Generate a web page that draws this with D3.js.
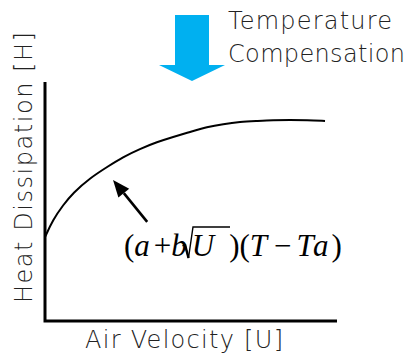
<!DOCTYPE html>
<html>
<head>
<meta charset="utf-8">
<script src="https://cdn.jsdelivr.net/npm/d3@7"></script>
<style>
  html, body { margin: 0; padding: 0; background: #fff; }
  svg { display: block; }
</style>
</head>
<body>
<svg id="chart" width="418" height="356"></svg>
<script>
// ---- data (arbitrary units 0..10) ----
const airVelocity = [0, 0.27, 0.62, 0.96, 1.54, 2.12, 2.67, 3.25, 3.84, 4.38, 4.97, 5.55, 6.10, 6.68, 7.26, 7.81, 8.39, 8.97, 9.59];
const heatDissipation = [3.51, 4.23, 4.85, 5.36, 5.98, 6.44, 6.86, 7.20, 7.49, 7.70, 7.91, 8.12, 8.24, 8.33, 8.37, 8.41, 8.41, 8.41, 8.37];
const xLabel = "Air Velocity [U]";
const yLabel = "Heat Dissipation [H]";
const noteLines = ["Temperature", "Compensation"];
const arrowFrom = [3.5, 4.15];
const arrowTo = [2.33, 5.9];

const svg = d3.select("#chart");
const x = d3.scaleLinear().domain([0, 10]).range([45, 337]);
const y = d3.scaleLinear().domain([0, 10]).range([321, 82]);

const sans = "'DejaVu Sans', sans-serif";
const serif = "'Liberation Serif', 'Times New Roman', serif";
const labelSize = 24;

// axes (L-shaped frame, no ticks)
svg.append("path")
  .attr("d", `M${x(0)},${y(10)} L${x(0)},${y(0)} L${x(10)},${y(0)}`)
  .attr("fill", "none").attr("stroke", "#000").attr("stroke-width", 3);

// curve
const pts = airVelocity.map((v, i) => [v, heatDissipation[i]]);
svg.append("path")
  .datum(pts)
  .attr("d", d3.line().x(d => x(d[0])).y(d => y(d[1])).curve(d3.curveBasis))
  .attr("fill", "none").attr("stroke", "#000").attr("stroke-width", 2);

// axis labels
svg.append("text")
  .attr("x", 85).attr("y", 348)
  .attr("font-family", sans).attr("font-weight", 200).attr("font-size", labelSize)
  .attr("fill", "#222")
  .attr("textLength", 198).attr("lengthAdjust", "spacing")
  .text(xLabel);

svg.append("text")
  .attr("transform", "translate(32,303) rotate(-90)")
  .attr("x", 0).attr("y", 0)
  .attr("font-family", sans).attr("font-weight", 200).attr("font-size", labelSize)
  .attr("fill", "#222")
  .attr("textLength", 271).attr("lengthAdjust", "spacing")
  .text(yLabel);

// black annotation arrow
{
  const x1 = x(arrowFrom[0]), y1 = y(arrowFrom[1]);
  const x2 = x(arrowTo[0]), y2 = y(arrowTo[1]);
  const ang = Math.atan2(y2 - y1, x2 - x1);
  const hl = 17, hw = 7;
  const bx = x2 - hl * Math.cos(ang), by = y2 - hl * Math.sin(ang);
  svg.append("line")
    .attr("x1", x1).attr("y1", y1).attr("x2", bx).attr("y2", by)
    .attr("stroke", "#000").attr("stroke-width", 2.6);
  const px = -Math.sin(ang), py = Math.cos(ang);
  svg.append("path")
    .attr("d", `M${x2},${y2} L${bx + hw * px},${by + hw * py} L${bx - hw * px},${by - hw * py} Z`)
    .attr("fill", "#000");
}

// formula (a + b√U)(T − Ta) — one flowing text element
const fy = 256;
const pieces = [
  { t: "(", dx: 0, it: false },
  { t: "a", dx: 0, it: true },
  { t: "+", dx: 4, it: false },
  { t: "b", dx: 0, it: true },
  { t: "U", dx: 5, it: true },
  { t: ")", dx: 15, it: false },
  { t: "(", dx: 0, it: false },
  { t: "T", dx: 0, it: true },
  { t: "\u2212", dx: 7, it: false },
  { t: "T", dx: 5, it: true },
  { t: "a", dx: 2, it: true },
  { t: ")", dx: 3, it: false }
];
svg.append("text")
  .attr("x", 124).attr("y", fy)
  .attr("font-family", serif).attr("font-size", 31)
  .attr("fill", "#000")
  .selectAll("tspan").data(pieces).join("tspan")
  .attr("dx", d => d.dx)
  .attr("font-style", d => d.it ? "italic" : "normal")
  .text(d => d.t);
// radical sign
svg.append("path")
  .attr("d", "M182.5,246 L185,244.5 L188.5,258 L193,227 L230,227")
  .attr("fill", "none").attr("stroke", "#000").attr("stroke-width", 1.4).attr("stroke-linejoin", "miter");
svg.append("path")
  .attr("d", "M185,244.5 L188.5,258")
  .attr("fill", "none").attr("stroke", "#000").attr("stroke-width", 2.4);

// blue block arrow
svg.append("path")
  .attr("d", "M175,15 L209,15 L209,65 L225,65 L192,81 L159,65 L175,65 Z")
  .attr("fill", "#00b0f0");

// Temperature Compensation note
svg.append("g").selectAll("text").data(noteLines).join("text")
  .attr("x", 228).attr("y", (d, i) => 29 + i * 33)
  .attr("font-family", sans).attr("font-weight", 200).attr("font-size", labelSize)
  .attr("fill", "#222")
  .attr("textLength", (d, i) => i === 0 ? 164 : 177).attr("lengthAdjust", "spacing")
  .text(d => d);
</script>
</body>
</html>
